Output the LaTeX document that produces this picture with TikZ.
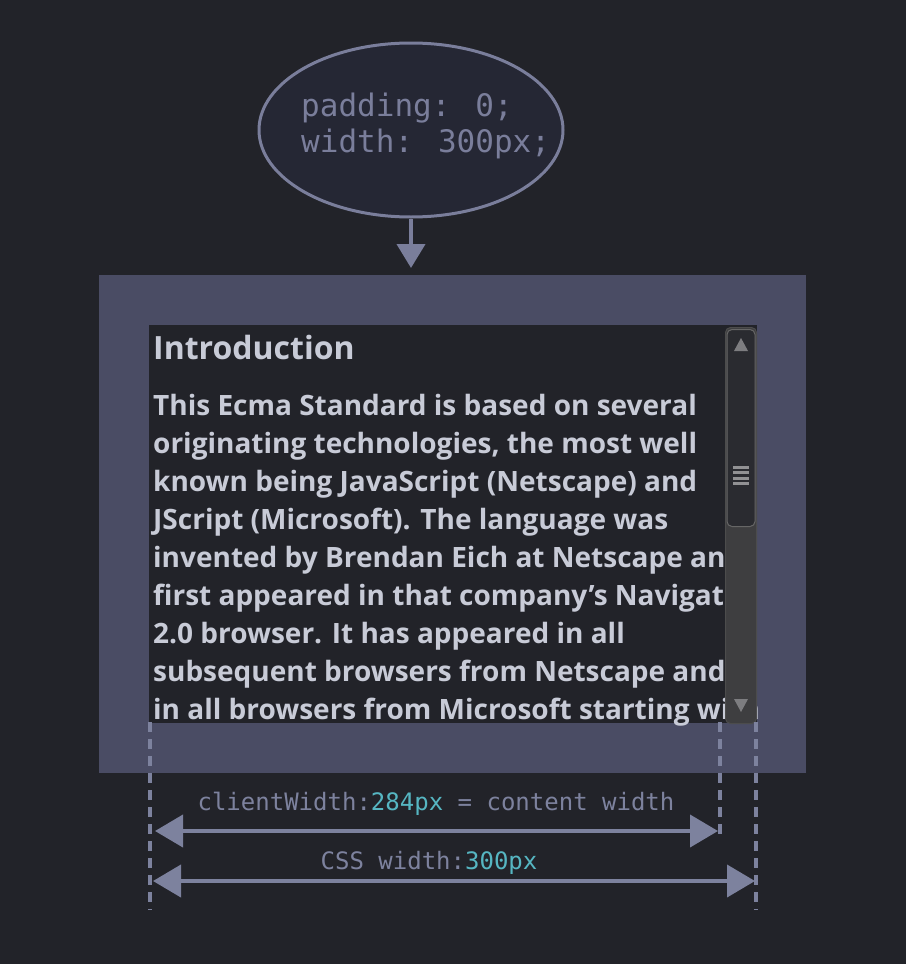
\documentclass[tikz,border=0pt]{standalone}
\usepackage{fontspec}
\usepackage{xcolor}
\usepackage{tikz}
\usetikzlibrary{arrows.meta,calc,positioning,shapes.geometric}
\newfontfamily\bodyfont{Open Sans}
\newfontfamily\codefont{DejaVu Sans Mono}
\definecolor{bgc}{RGB}{34,35,41}
\definecolor{ovalc}{RGB}{37,39,52}
\definecolor{linec}{RGB}{122,126,155}
\definecolor{boxc}{RGB}{74,76,100}
\definecolor{txtc}{RGB}{200,203,215}
\definecolor{dimc}{RGB}{125,130,158}
\definecolor{numc}{RGB}{86,182,194}
\definecolor{barc}{RGB}{62,62,64}
\definecolor{thumbc}{RGB}{42,43,48}
\definecolor{tipc}{RGB}{125,125,128}

\begin{document}
\begin{tikzpicture}[x=1pt,y=-1pt,
    oval/.style={ellipse,draw=linec,fill=ovalc,line width=3pt,inner sep=0pt},
    conn/.style={-{Triangle[length=24pt,width=28pt]},line width=4pt,draw=linec},
    dimline/.style={{Triangle[length=28pt,width=32pt]}-{Triangle[length=28pt,width=32pt]},line width=4pt,draw=dimc},
    guide/.style={dash pattern=on 10pt off 7pt,line width=3.5pt,draw=dimc},
    bodyline/.style={anchor=base west,inner sep=0pt,text=txtc,font=\bodyfont\bfseries\fontsize{28}{38}\selectfont},
    code/.style={inner sep=0pt,text=dimc,font=\codefont\fontsize{24}{28}\selectfont}]
  \fill[bgc] (0,0) rectangle (906,964);
  \useasboundingbox (0,0) rectangle (906,964);
  % style rule
  \node[oval,minimum width=304pt,minimum height=174pt] (css) at (411,130) {};
  \node[anchor=base west,inner sep=0pt,align=left,text=linec,
        font=\codefont\fontsize{31}{36}\selectfont] (csstext) at (301,152)
        {padding: 0;\\width: 300px;};
  % element box
  \node[anchor=north west,fill=boxc,inner sep=0pt,minimum width=707pt,minimum height=498pt] (outer) at (99,275) {};
  \node[anchor=north west,fill=bgc,inner sep=0pt,minimum width=608pt,minimum height=398pt] (content) at (149,325) {};
  \draw[conn] (css.south) -- ($(css.south |- outer.north)+(0,-7)$);
  \begin{scope}
    \clip (149,325) rectangle (757,726);
    \node[bodyline,font=\bodyfont\bfseries\fontsize{32}{36}\selectfont] (heading) at (153,359) {Introduction};
    \foreach \txt [count=\i] in {{This Ecma Standard is based on several},
        {originating technologies, the most well},
        {known being JavaScript (Netscape) and},
        {JScript (Microsoft). The language was},
        {invented by Brendan Eich at Netscape and},
        {first appeared in that company’s Navigator},
        {2.0 browser. It has appeared in all},
        {subsequent browsers from Netscape and},
        {in all browsers from Microsoft starting with}}
      \node[bodyline] (line\i) at (153,{377+38*\i}) {\txt};
  \end{scope}
  % scrollbar
  \node[anchor=north west,fill=barc,draw=black!70,line width=1pt,rounded corners=5pt,inner sep=0pt,
        minimum width=31pt,minimum height=396pt] (bar) at (725,327) {};
  \node[anchor=north,fill=thumbc,draw=black!60,line width=1pt,rounded corners=5pt,inner sep=0pt,
        minimum width=28pt,minimum height=197pt] (thumb) at ([yshift=-2pt]bar.north) {};
  \fill[tipc] (741,338) -- (748,351) -- (734,351) -- cycle;
  \fill[tipc] (741,712) -- (748,699) -- (734,699) -- cycle;
  \foreach \k in {0,...,3}
    \draw[tipc!85!white,line width=3pt] (733,{467+5.5*\k}) -- (749,{467+5.5*\k});
  % guides and widths
  \coordinate (gl) at (150,722);
  \coordinate (gm) at (720,722);
  \coordinate (gr) at (756,722);
  \draw[guide] (gl) -- ++(0,188);
  \draw[guide] (gm) -- ++(0,116);
  \draw[guide] (gr) -- ++(0,188);
  \coordinate (a1) at (155,831);
  \coordinate (b1) at (718,831);
  \coordinate (a2) at (153,881);
  \coordinate (b2) at (755,881);
  \draw[dimline] (a1) -- (b1);
  \draw[dimline] (a2) -- (b2);
  \node[code] (clientw) at (436,804) {clientWidth:\textcolor{numc}{284px} = content width};
  \node[code] (cssw) at (429,863) {CSS width:\textcolor{numc}{300px}};
\end{tikzpicture}
\end{document}
